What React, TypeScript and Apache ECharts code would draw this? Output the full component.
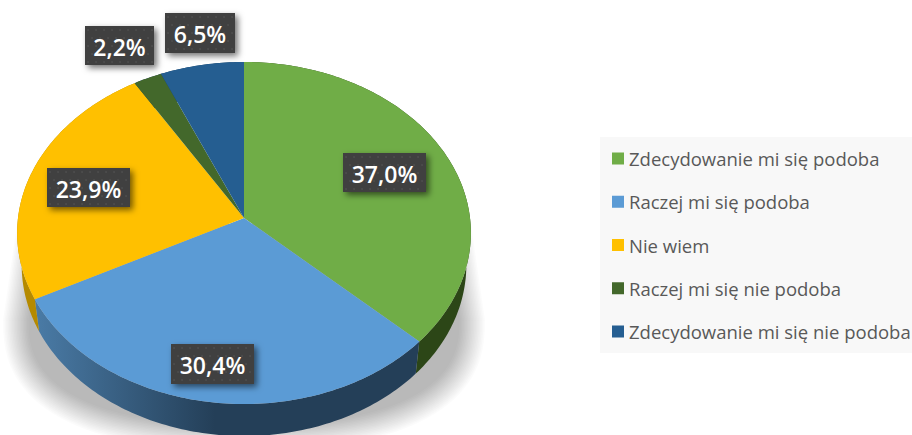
import React, { useEffect, useRef } from "react";
import * as echarts from "echarts";

const categories = [
  "Zdecydowanie mi się podoba",
  "Raczej mi się podoba",
  "Nie wiem",
  "Raczej mi się nie podoba",
  "Zdecydowanie mi się nie podoba",
];
const values = [37.0, 30.4, 23.9, 2.2, 6.5];
const colors = ["#70ad47", "#5b9bd5", "#ffc000", "#43682b", "#255e91"];
const labelBoxes = [
  [343, 153, 83, 39],
  [171, 344, 83, 40],
  [47, 168, 83, 39],
  [85, 26, 69, 39],
  [165, 13, 70, 40],
];

const CX = 244, CY = 218, A = 226, B = 169.7, K = 0.0877, DEPTH = 32, SHRINK = 0.98;
const total = values.reduce((s, v) => s + v, 0);
const project = (deg: number, lower: boolean) => {
  const t = (deg * Math.PI) / 180;
  const X = Math.sin(t), Y = -Math.cos(t), d = 1 - K * Y;
  return lower
    ? [CX + (SHRINK * A * X) / d, CY + (B * Y) / d + DEPTH]
    : [CX + (A * X) / d, CY + (B * Y) / d];
};
const arc = (a0: number, a1: number, lower: boolean) => {
  const n = Math.max(2, Math.ceil(Math.abs(a1 - a0)));
  const pts: number[][] = [];
  for (let i = 0; i <= n; i++) pts.push(project(a0 + ((a1 - a0) * i) / n, lower));
  return pts;
};
const sideFill = (i: number) => {
  if (i === 0) return "#2c4617";
  if (i === 2) return "#b58a00";
  if (i === 1)
    return new echarts.graphic.LinearGradient(35, 0, 215, 0, [
      { offset: 0, color: "#4a7ba6" },
      { offset: 1, color: "#243f58" },
    ], true);
  return "#193f61";
};

function shadowLayers() {
  const out: any[] = [];
  const N = 18;
  for (let i = 0; i < N; i++) {
    const inset = i * 1.5;
    const rx = 241 - inset, ry = 130 - inset;
    const pts: number[][] = [];
    for (let d = 0; d <= 180; d += 3) {
      const t = (d * Math.PI) / 180;
      const c = Math.cos(t), s = Math.sin(t);
      pts.push([
        244 + Math.sign(c) * rx * Math.pow(Math.abs(c), 0.8),
        320 + ry * Math.pow(s, 0.8),
      ]);
    }
    pts.push([17 + inset, 224], [471 - inset, 224]);
    out.push({ type: "polygon", z: 0, shape: { points: pts }, style: { fill: "rgba(0,0,0,0.014)" } });
  }
  return out;
}

function makeSeries(index: number) {
  const start = values.slice(0, index).reduce((s, v) => s + v, 0);
  return {
    type: "custom",
    name: categories[index],
    coordinateSystem: "none",
    itemStyle: { color: colors[index] },
    data: [[values[index]]],
    silent: true,
    renderItem: (_p: any, api: any) => {
      const a0 = (start / total) * 360;
      const a1 = a0 + (api.value(0) / total) * 360;
      const [bx, by, bw, bh] = labelBoxes[index];
      const dots: any[] = [];
      for (let r = 0; r * 8 + 4 < bh; r++) {
        for (let c = 0; c * 8 + 3 + (r % 2) * 4 < bw; c++) {
          dots.push({
            type: "circle", z2: 11,
            shape: { cx: bx + 3 + c * 8 + (r % 2) * 4, cy: by + 4 + r * 8, r: 0.7 },
            style: { fill: "rgba(255,255,255,0.14)" },
          });
        }
      }
      return {
        type: "group",
        children: [
          {
            type: "polygon", z2: 1,
            shape: { points: [...arc(a0, a1, false), ...arc(a1, a0, true)] },
            style: { fill: sideFill(index) },
          },
          {
            type: "polygon", z2: 2,
            shape: { points: [[CX, CY], ...arc(a0, a1, false)] },
            style: { fill: colors[index] },
          },
          {
            type: "rect", z2: 10,
            shape: { x: bx, y: by, width: bw, height: bh },
            style: { fill: "#404040", shadowBlur: 6, shadowColor: "rgba(0,0,0,0.55)", shadowOffsetX: 3, shadowOffsetY: 3 },
          },
          ...dots,
          {
            type: "text", z2: 12,
            style: {
              x: bx + bw / 2, y: by + bh / 2 + 1,
              text: api.value(0).toFixed(1).replace(".", ",") + "%",
              fill: "#ffffff",
              font: "600 23px 'Open Sans'",
              align: "center", verticalAlign: "middle",
            },
          },
        ],
      };
    },
  };
}

export default function App() {
  const ref = useRef<HTMLDivElement>(null);
  useEffect(() => {
    document.body.style.margin = "0";
    const chart = echarts.init(ref.current!, null, { renderer: "svg" });
    chart.setOption({
      animation: false,
      backgroundColor: "#ffffff",
      graphic: {
        z: 0,
        elements: [
          ...shadowLayers(),
          { type: "rect", shape: { x: 600, y: 137, width: 312, height: 216 }, style: { fill: "#f8f8f8" } },
        ],
      },
      legend: {
        data: categories,
        orient: "vertical",
        left: 612,
        top: 148,
        padding: 0,
        itemGap: 22.25,
        itemWidth: 12,
        itemHeight: 12,
        icon: "rect",
        textStyle: { color: "#595959", fontFamily: "Open Sans", fontSize: 18.5, lineHeight: 21 },
        selectedMode: false,
      },
      series: categories.map((_, i) => makeSeries(i)),
    });
    return () => chart.dispose();
  }, []);
  return <div ref={ref} style={{ width: 912, height: 435 }} />;
}
